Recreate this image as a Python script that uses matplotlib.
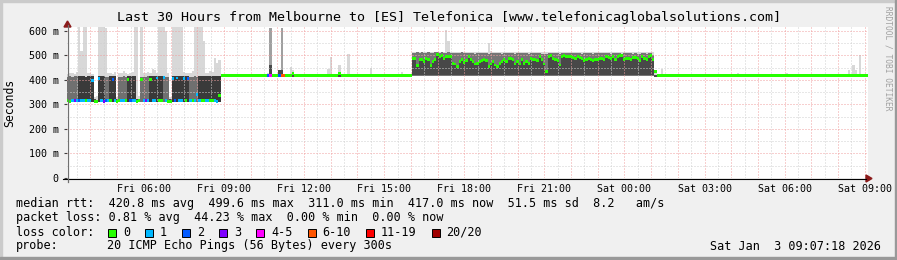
import numpy as np
import matplotlib.pyplot as plt
from matplotlib.patches import Rectangle, Polygon
from matplotlib.lines import Line2D
from datetime import datetime, timedelta

plt.rcParams['font.family'] = ['DejaVu Sans Mono', 'DejaVu Sans']

W, H = 897, 260

# ---- chart text / axes data ----
title = "Last 30 Hours from Melbourne to [ES] Telefonica [www.telefonicaglobalsolutions.com]"
start = datetime(2026, 1, 2, 3, 7, 18)
end = datetime(2026, 1, 3, 9, 7, 18)
step_min = 5
x_labels = ["Fri 06:00", "Fri 09:00", "Fri 12:00", "Fri 15:00", "Fri 18:00",
            "Fri 21:00", "Sat 00:00", "Sat 03:00", "Sat 06:00", "Sat 09:00"]
label_times = ["2026-01-02 06:00", "2026-01-02 09:00", "2026-01-02 12:00", "2026-01-02 15:00",
               "2026-01-02 18:00", "2026-01-02 21:00", "2026-01-03 00:00", "2026-01-03 03:00",
               "2026-01-03 06:00", "2026-01-03 09:00"]
y_ticks = [0, 100, 200, 300, 400, 500, 600]
y_labels = ["0", "100 m", "200 m", "300 m", "400 m", "500 m", "600 m"]
y_max = 616

loss_names = ["0", "1", "2", "3", "4-5", "6-10", "11-19", "20/20"]
loss_colors = ["#26ff00", "#00b8ff", "#0059ff", "#7e00ff", "#ff00ff", "#ff5500", "#ff0000", "#a00000"]

stats_rtt = "median rtt:  420.8 ms avg  499.6 ms max  311.0 ms min  417.0 ms now  51.5 ms sd  8.2   am/s"
stats_loss = "packet loss: 0.81 % avg  44.23 % max  0.00 % min  0.00 % now"
probe = "20 ICMP Echo Pings (56 Bytes) every 300s"
stamp = "Sat Jan  3 09:07:18 2026"

# ---- segment A: 03:07 - 08:52, flapping between ~315 ms and ~415 ms (ms) ----
med_a = [315, 313, 316, 317, 318, 316, 317, 316, 318, 316,
         317, 398, 314, 312, 405, 316, 314, 316, 317, 315,
         402, 316, 312, 316, 318, 316, 315, 401, 316, 317,
         316, 312, 316, 400, 315, 316, 317, 401, 316, 315,
         408, 316, 317, 410, 316, 313, 312, 405, 316, 408,
         316, 317, 407, 315, 404, 316, 317, 315, 339, 316,
         318, 316, 315, 317, 316, 318, 316, 312, 335]
loss_a = [0, 0, 1, 3, 1, 2, 1, 1, 0, 1,
          1, 1, 0, 0, 1, 1, 3, 2, 1, 0,
          2, 1, 0, 0, 1, 1, 0, 0, 2, 1,
          1, 0, 0, 0, 1, 3, 1, 0, 1, 1,
          1, 0, 0, 1, 1, 0, 0, 1, 2, 1,
          1, 1, 1, 0, 2, 1, 0, 1, 1, 1,
          0, 0, 1, 1, 0, 0, 1, 1, 0]
top_a = [414, 415, 413, 416, 415, 417, 416, 415, 414, 416,
         415, 416, 322, 320, 416, 415, 417, 412, 410, 416,
         417, 416, 321, 412, 414, 415, 413, 416, 417, 415,
         416, 322, 320, 414, 413, 412, 415, 416, 417, 416,
         415, 416, 417, 414, 413, 412, 322, 416, 417, 418,
         417, 416, 418, 417, 416, 414, 413, 415, 414, 416,
         417, 416, 415, 416, 417, 415, 416, 417, 418]
peak_a = [425, 430, 428, 425, 432, 640, 520, 640, 640, 430,
          428, 425, 330, 335, 640, 640, 640, 610, 430, 428,
          425, 432, 330, 428, 430, 435, 428, 425, 430, 432,
          640, 640, 335, 640, 430, 428, 432, 428, 445, 440,
          430, 640, 640, 640, 600, 428, 330, 640, 640, 640,
          640, 640, 432, 430, 428, 430, 435, 640, 640, 640,
          640, 560, 430, 428, 435, 432, 490, 470, 480]
shade_a = [1, 1, 1, 1, 1, 2, 2, 2, 2, 2,
           2, 2, 0, 0, 2, 2, 2, 1, 1, 2,
           2, 2, 0, 1, 1, 1, 1, 2, 2, 2,
           2, 0, 0, 1, 1, 1, 1, 2, 2, 2,
           2, 2, 2, 1, 1, 1, 0, 2, 2, 2,
           2, 2, 2, 2, 2, 1, 1, 1, 1, 2,
           2, 2, 2, 2, 2, 2, 2, 2, 2]
lo_a = 311

# ---- segment B: 08:52 - 16:02, flat ~417 ms ----
n_b = 86
med_b, lo_b, top_b, peak_b = 417, 414, 420, 423
b_idx = [73, 90, 91, 95, 96, 100, 101, 109, 117, 118, 122, 126, 136, 145, 150]
b_peak = [423, 430, 612, 440, 612, 453, 440, 425, 445, 494, 460, 506, 449, 425, 432]
b_mid = [420, 420, 612, 440, 612, 420, 420, 420, 420, 420, 420, 420, 420, 420, 420]
b_top = [420, 420, 461, 440, 441, 420, 420, 420, 420, 420, 420, 420, 420, 420, 420]
b_med_idx = [101, 122]
b_med = [428, 428]
b_loss_idx = [90, 91, 95, 96, 97]
b_loss = [2, 4, 2, 5, 5]

# ---- segment C: 16:02 - 01:07, ~415-510 ms ----
med_c = [486, 486, 458, 484, 482, 475, 486, 482, 458, 475,
         482, 502, 495, 499, 486, 495, 495, 495, 469, 465,
         454, 475, 484, 471, 479, 495, 484, 475, 465, 468,
         475, 479, 482, 479, 454, 465, 475, 461, 454, 468,
         475, 482, 475, 488, 488, 482, 465, 475, 465, 482,
         468, 475, 468, 488, 482, 484, 479, 495, 482, 465,
         434, 495, 499, 488, 482, 479, 461, 495, 498, 495,
         495, 495, 492, 488, 495, 492, 488, 479, 482, 488,
         484, 479, 484, 482, 488, 488, 482, 495, 492, 488,
         495, 484, 495, 498, 498, 482, 486, 488, 484, 490,
         492, 486, 480, 495, 488, 484, 495, 498, 482]
top_c = [508, 511, 512, 510, 512, 511, 509, 512, 510, 511,
         512, 513, 511, 512, 510, 511, 512, 509, 511, 510,
         509, 511, 512, 510, 508, 511, 509, 510, 507, 509,
         510, 508, 511, 509, 506, 510, 508, 511, 509, 510,
         507, 509, 510, 508, 511, 509, 506, 508, 510, 509,
         508, 510, 507, 509, 511, 508, 510, 509, 507, 506,
         504, 509, 511, 510, 508, 509, 507, 510, 511, 509,
         510, 508, 511, 509, 510, 508, 507, 509, 510, 511,
         509, 507, 510, 508, 509, 511, 508, 510, 509, 507,
         510, 509, 511, 508, 507, 510, 509, 508, 510, 506,
         508, 507, 505, 509, 508, 506, 509, 508, 503]
lo_c, peak_c = 418, 514
c_idx = [170, 171, 189, 190]
c_peak = [605, 560, 550, 520]

# ---- segment D: 01:07 - 09:07, flat ~417 ms ----
n_d = 96
med_d, lo_d, top_d, peak_d = 417, 414, 420, 423
d_med_idx = [264]
d_med = [434]
d_idx = [264, 267, 301, 323, 351, 353, 354, 356]
d_peak = [442, 445, 428, 430, 440, 461, 441, 502]

# ---- assemble samples ----
n_a, n_c = len(med_a), len(med_c)
med = np.array(med_a + [med_b] * n_b + med_c + [med_d] * n_d, float)
lo = np.array([lo_a] * n_a + [lo_b] * n_b + [lo_c] * n_c + [lo_d] * n_d, float)
top = np.array(top_a + [top_b] * n_b + top_c + [top_d] * n_d, float)
peak = np.array(peak_a + [peak_b] * n_b + [peak_c] * n_c + [peak_d] * n_d, float)
loss = np.array(loss_a + [0] * (n_b + n_c + n_d))
mid = top.copy()
for i, p, m, tp in zip(b_idx, b_peak, b_mid, b_top):
    peak[i], mid[i], top[i] = p, m, tp
for i, v in zip(b_med_idx, b_med):
    med[i] = v
for i, v in zip(b_loss_idx, b_loss):
    loss[i] = v
for i, p in zip(c_idx, c_peak):
    peak[i] = p
for i, v in zip(d_med_idx, d_med):
    med[i] = v
for i, p in zip(d_idx, d_peak):
    peak[i] = p

n = len(med)
span_h = (end - start).total_seconds() / 3600
step_h = step_min / 60
t = np.arange(n) * step_h

shade_cols = {0: '#4a4a4a', 1: '#707070', 2: '#3a3a3a'}
body_col = np.array(['#4a4a4a'] * n, dtype=object)
for i, s in enumerate(shade_a):
    body_col[i] = shade_cols[s]
c0 = n_a + n_b
body_col[c0:c0 + n_c] = '#767676'

# ---- figure ----
fig = plt.figure(figsize=(W / 100, H / 100), dpi=100)
fig.patch.set_facecolor('#f0f0f0')
ax = fig.add_axes([67 / W, (H - 178) / H, 801 / W, 151 / H])
ax.set_facecolor('white')
for s in ax.spines.values():
    s.set_visible(False)
ax.set_xlim(0, span_h)
ax.set_ylim(0, y_max)

kw = dict(width=step_h, align='edge', linewidth=0, antialiased=False)
ax.bar(t, peak - lo, bottom=lo, color='#d8d8d8', zorder=1, **kw)
ax.bar(t, mid - lo, bottom=lo, color='#a0a0a0', zorder=1.5, **kw)
ax.bar(t, top - lo, bottom=lo, color=list(body_col), zorder=2, **kw)
# darker core below the median inside segment C
sl = slice(c0, c0 + n_c)
ax.bar(t[sl], med[sl] - lo[sl], bottom=lo[sl] + 3, color='#484848', zorder=2.5, **kw)

# grid (rrdtool style dotted lines)
for k in range(int(span_h * 2) + 2):
    gt = (datetime(2026, 1, 2, 3, 30) + timedelta(minutes=30 * k) - start).total_seconds() / 3600
    if 0 < gt < span_h:
        major = k % 2 == 1
        ax.axvline(gt, color='#f0a0a0' if major else '#d0d0d0', lw=0.72,
                   linestyle=(0, (1, 2)), zorder=3)
for yv in range(50, y_max, 50):
    major = yv % 100 == 0
    ax.axhline(yv, color='#f0a0a0' if major else '#d0d0d0', lw=0.72,
               linestyle=(0, (1, 2)), zorder=3)

# median with loss colour
ax.bar(t, np.full(n, 12.0), bottom=med - 6, color=[loss_colors[k] for k in loss],
       zorder=4, **kw)

# ticks
tick_pos = [(datetime.strptime(s, "%Y-%m-%d %H:%M") - start).total_seconds() / 3600
            for s in label_times]
ax.set_xticks(tick_pos, x_labels)
ax.set_yticks(y_ticks, y_labels)
ax.tick_params(axis='x', length=0, pad=4, labelsize=7.2, colors='#000000')
ax.tick_params(axis='y', length=2, width=0.8, color='#404040', pad=4, labelsize=7.2)

def fx(x):
    return x / W

def fy(y):
    return 1 - y / H

# axes lines and arrows
fig.add_artist(Line2D([fx(63), fx(866)], [fy(178.5), fy(178.5)], color='black', lw=0.8))
fig.add_artist(Line2D([fx(67.5), fx(67.5)], [fy(182), fy(25)], color='#707070', lw=0.9))
fig.add_artist(Polygon([(fx(866), fy(175)), (fx(866), fy(182)), (fx(872), fy(178.5))],
                       closed=True, color='#8b1a1a', transform=fig.transFigure))
fig.add_artist(Polygon([(fx(64), fy(27)), (fx(71), fy(27)), (fx(67.5), fy(21))],
                       closed=True, color='#8b1a1a', transform=fig.transFigure))

# frame shading
fig.add_artist(Rectangle((0, 0), fx(2), 1, color='#cbcbcb', transform=fig.transFigure))
fig.add_artist(Rectangle((0, fy(2)), 1, 2 / H, color='#cbcbcb', transform=fig.transFigure))
fig.add_artist(Rectangle((fx(895), 0), fx(2), 1, color='#999999', transform=fig.transFigure))
fig.add_artist(Rectangle((0, 0), 1, 3 / H, color='#999999', transform=fig.transFigure))

# texts
fig.text(0.5, fy(18), title, ha='center', va='center', fontsize=9.6)
fig.text(fx(10), fy(103), "Seconds", rotation=90, ha='center', va='center', fontsize=8.3)
fig.text(fx(888), fy(58), "RRDTOOL / TOBI OETIKER", rotation=270, ha='center', va='center',
         fontsize=5.7, color='#a0a0a0')

leg_fs = 8.5
fig.text(fx(16), fy(204), stats_rtt, ha='left', va='center', fontsize=leg_fs)
fig.text(fx(16), fy(218), stats_loss, ha='left', va='center', fontsize=leg_fs)
fig.text(fx(16), fy(232), "loss color:", ha='left', va='center', fontsize=leg_fs)
fig.text(fx(16), fy(246), "probe:", ha='left', va='center', fontsize=leg_fs)
fig.text(fx(107), fy(246), probe, ha='left', va='center', fontsize=leg_fs)
fig.text(fx(881), fy(246), stamp, ha='right', va='center', fontsize=leg_fs)

cw = 7.1
bx = 108
for name, col in zip(loss_names, loss_colors):
    fig.add_artist(Rectangle((fx(bx), fy(236.5)), 8 / W, 8 / H, facecolor=col,
                             edgecolor='black', lw=0.7, transform=fig.transFigure))
    fig.text(fx(bx + 15), fy(232), name, ha='left', va='center', fontsize=leg_fs)
    bx += 15 + len(name) * cw + 15

fig.savefig("out.png", dpi=100, facecolor=fig.get_facecolor())
